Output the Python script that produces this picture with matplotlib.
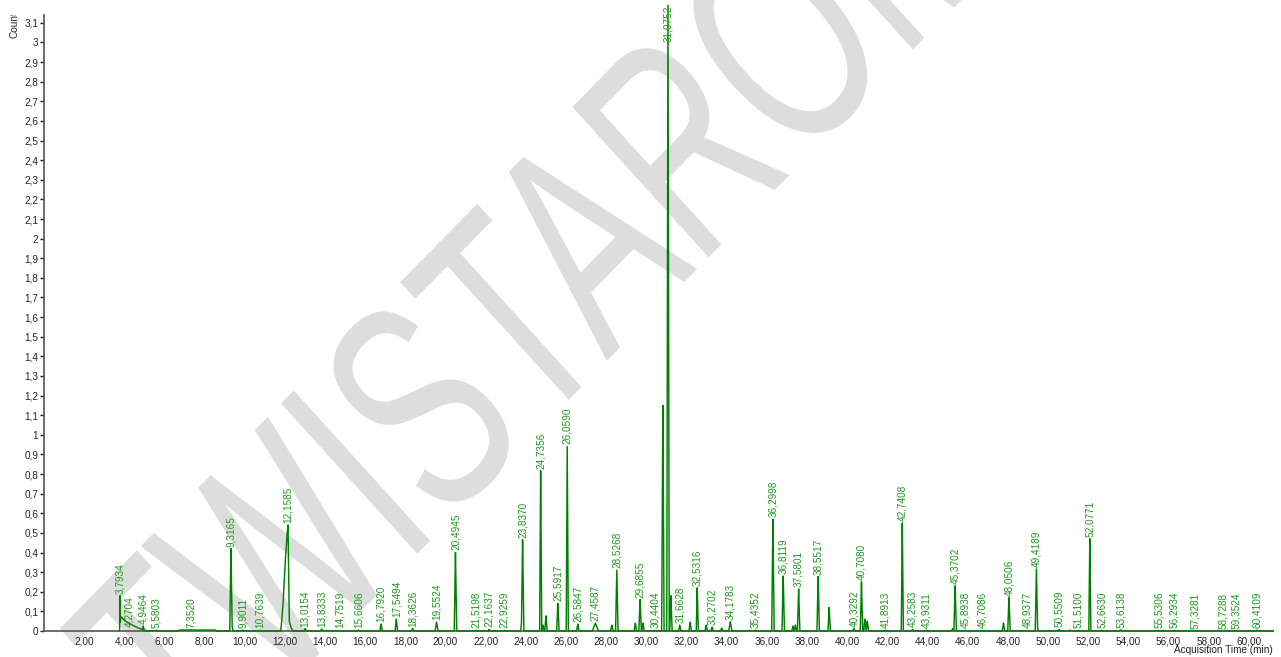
import numpy as np
import matplotlib
matplotlib.use("Agg")
import matplotlib.pyplot as plt
from matplotlib.ticker import FixedLocator, FuncFormatter
from matplotlib.patheffects import AbstractPathEffect
from matplotlib.transforms import Affine2D, Bbox, TransformedBbox

plt.rcParams["font.family"] = ["Liberation Sans", "DejaVu Sans"]

# labelled peaks: retention time (min) and height (x10^7 counts)
peak_rt = [3.7934, 4.2704, 4.9464, 5.5803, 7.3520, 9.3165, 9.9011, 10.7639,
           12.1585, 13.0154, 13.8333, 14.7519, 15.6606, 16.7920, 17.5494,
           18.3626, 19.5524, 20.4945, 21.5198, 22.1637, 22.9259, 23.8370,
           24.7356, 25.5917, 26.0590, 26.5847, 27.4587, 28.5268, 29.6855,
           30.4404, 31.0752, 31.6628, 32.5316, 33.2702, 34.1783, 35.4352,
           36.2998, 36.8119, 37.5801, 38.5517, 40.3292, 40.7080, 41.8913,
           42.7408, 43.2583, 43.9311, 45.3702, 45.8938, 46.7086, 48.0506,
           48.9377, 49.4189, 50.5509, 51.5100, 52.0771, 52.6630, 53.6138,
           55.5306, 56.2934, 57.3281, 58.7288, 59.3524, 60.4109]
peak_h = [0.18, 0.012, 0.025, 0.004, 0.006, 0.42, 0.005, 0.004,
          0.54, 0.012, 0.01, 0.003, 0.005, 0.035, 0.06,
          0.012, 0.045, 0.40, 0.005, 0.008, 0.004, 0.465,
          0.817, 0.14, 0.94, 0.035, 0.04, 0.31, 0.16,
          0.003, 3.19, 0.03, 0.22, 0.02, 0.047, 0.005,
          0.57, 0.28, 0.214, 0.277, 0.012, 0.25, 0.004,
          0.55, 0.008, 0.004, 0.23, 0.003, 0.003, 0.17,
          0.003, 0.316, 0.008, 0.003, 0.47, 0.003, 0.006,
          0.003, 0.003, 0.002, 0.002, 0.002, 0.005]
peak_w = [0.02, 0.05, 0.05, 0.05, 0.05, 0.06, 0.05, 0.05,
          0.06, 0.06, 0.06, 0.05, 0.05, 0.06, 0.06,
          0.06, 0.07, 0.06, 0.05, 0.05, 0.05, 0.06,
          0.05, 0.06, 0.05, 0.06, 0.15, 0.06, 0.06,
          0.05, 0.06, 0.06, 0.05, 0.06, 0.08, 0.05,
          0.06, 0.06, 0.06, 0.06, 0.06, 0.06, 0.05,
          0.05, 0.05, 0.05, 0.06, 0.05, 0.05, 0.06,
          0.05, 0.06, 0.06, 0.05, 0.05, 0.05, 0.08,
          0.05, 0.05, 0.05, 0.05, 0.05, 0.08]

# unlabelled peaks
other_rt = [9.36, 23.80, 24.85, 25.00, 28.28, 29.45, 29.83, 30.82, 31.22,
            32.18, 32.98, 33.75, 37.30, 37.42, 39.10, 40.88, 41.00, 45.25,
            47.78, 49.45, 51.10]
other_h = [0.03, 0.06, 0.03, 0.077, 0.03, 0.04, 0.04, 1.15, 0.18,
           0.045, 0.03, 0.015, 0.025, 0.03, 0.12, 0.06, 0.05, 0.012,
           0.04, 0.03, 0.005]

# broad shapes (tailing after 3.79, fronting of 12.16, baseline hump)
tail_rt = [3.78, 3.83, 4.04, 4.29, 4.62, 4.95, 5.20]
tail_h = [0.0, 0.073, 0.052, 0.036, 0.019, 0.005, 0.0]
front_rt = [11.80, 11.90, 12.00, 12.10, 12.1585, 12.22, 12.30, 12.40]
front_h = [0.0, 0.12, 0.32, 0.48, 0.54, 0.05, 0.02, 0.0]
hump_rt = [6.70, 6.75, 8.55, 8.60]
hump_h = [0.0, 0.005, 0.005, 0.0]

x = np.union1d(np.arange(3.75, 61.2, 0.004), peak_rt + other_rt)
y = np.zeros_like(x)
for t, h, w in zip(peak_rt, peak_h, peak_w):
    y = np.maximum(y, np.interp(x, [t - w, t, t + w], [0, h, 0]))
for t, h in zip(other_rt, other_h):
    y = np.maximum(y, np.interp(x, [t - 0.06, t, t + 0.06], [0, h, 0]))
for rt, hh in [(tail_rt, tail_h), (front_rt, front_h), (hump_rt, hump_h)]:
    y = np.maximum(y, np.interp(x, rt, hh, left=0, right=0))


class Squeeze(AbstractPathEffect):
    """narrow + slanted glyphs for the watermark"""

    def __init__(self, sx, skew):
        super().__init__()
        self._t = Affine2D().skew_deg(skew, 0).scale(sx, 1)

    def draw_path(self, renderer, gc, tpath, affine, rgbFace=None):
        renderer.draw_path(gc, tpath, self._t + affine, rgbFace)


fig = plt.figure(figsize=(12.81, 6.57), dpi=100)
ax = fig.add_axes([0.0342, 0.0396, 0.9596, 0.9376])

green = "#008000"
label_green = "#1c9a1c"
ax.plot(x, y, color=green, lw=1.05, clip_on=False, zorder=3)

y_top = 3.14
for t, h in zip(peak_rt, peak_h):
    txt = f"{t:.4f}".replace(".", ",")
    if h > y_top:
        ax.annotate(txt, (t, h), xytext=(0, 0), textcoords="offset points",
                    rotation=90, ha="center", va="top", fontsize=7.2,
                    color=label_green, annotation_clip=False, zorder=4)
    else:
        ax.annotate(txt, (t, h), xytext=(0, 1.5), textcoords="offset points",
                    rotation=90, ha="center", va="bottom", fontsize=7.2,
                    color=label_green, zorder=4)

ax.set_xlim(0, 61.2)
ax.set_ylim(0, y_top)

x_ticks = np.arange(2, 61, 2)
y_ticks = np.round(np.arange(0, 3.15, 0.1), 1)
ax.xaxis.set_major_locator(FixedLocator(x_ticks))
ax.yaxis.set_major_locator(FixedLocator(y_ticks))
ax.xaxis.set_major_formatter(FuncFormatter(lambda v, p: f"{v:.2f}".replace(".", ",")))


def yfmt(v, p):
    v = round(v, 1)
    if v == int(v):
        return str(int(v))
    return f"{v:.1f}".replace(".", ",")


ax.yaxis.set_major_formatter(FuncFormatter(yfmt))
ax.tick_params(axis="x", length=0, labelsize=7.2, pad=4, colors="#222222")
ax.tick_params(axis="y", length=3, width=1, labelsize=7.2, pad=1, colors="#222222")
for s in ["top", "right"]:
    ax.spines[s].set_visible(False)
for s in ["left", "bottom"]:
    ax.spines[s].set_color("#555555")
    ax.spines[s].set_linewidth(1.2)

ax.text(1.0, -0.022, "Acquisition Time (min)", transform=ax.transAxes,
        ha="right", va="top", fontsize=7.2, color="#222222")
ylab = fig.text(0.011, 1 - 38 / 657, "Counts", rotation=90, ha="center",
                va="bottom", fontsize=7.2, color="#222222")
# the top of the y label is hidden in the original
ylab.set_clip_box(TransformedBbox(Bbox([[0, 0], [1, 1 - 15 / 657]]),
                                  fig.transFigure))

# watermark
ax.text(193 / 1281, 1 - 782 / 657, "TWISTAROMA", transform=fig.transFigure,
        rotation=45.5, rotation_mode="anchor", ha="left", va="baseline",
        fontsize=212, color="#dddddd", zorder=0.5, clip_on=False,
        path_effects=[Squeeze(0.66, 5)])

fig.savefig("out.png", dpi=100)
